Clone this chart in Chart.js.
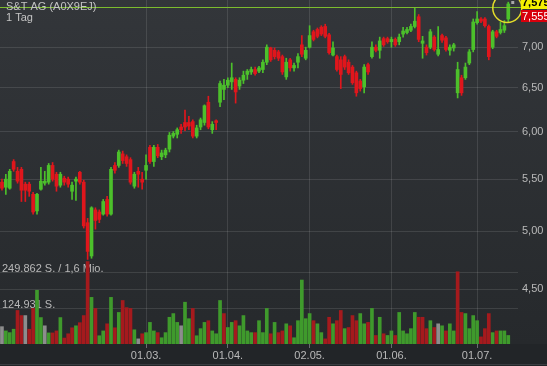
<!DOCTYPE html>
<html>
<head>
<meta charset="utf-8">
<script src="https://cdn.jsdelivr.net/npm/chart.js@4"></script>
<style>
  html, body { margin: 0; padding: 0; background: #26292d; }
  #wrap { width: 547px; height: 366px; position: relative; }
</style>
</head>
<body>
<div id="wrap"><canvas id="myChart"></canvas></div>
<script>
// daily candles
const opens = [5.47,5.42,5.41,5.68,5.58,5.60,5.45,5.45,5.35,5.19,5.40,5.46,5.47,5.64,5.55,5.44,5.51,5.50,5.38,5.48,
  5.57,5.47,5.08,4.78,5.20,5.18,5.16,5.30,5.16,5.64,5.64,5.76,5.73,5.70,5.43,5.58,5.50,5.59,5.83,5.68,
  5.83,5.73,5.75,5.81,5.95,5.97,6.05,6.10,6.10,6.11,5.95,6.05,6.10,6.33,6.02,6.12,6.33,6.48,6.53,6.57,
  6.60,6.52,6.59,6.66,6.69,6.72,6.70,6.72,6.81,6.99,6.96,6.94,6.88,6.63,6.84,6.74,6.81,7.03,6.86,7.00,
  7.20,7.23,7.26,7.27,7.16,6.90,6.88,6.84,6.88,6.81,6.75,6.68,6.58,6.51,6.78,6.88,7.00,6.96,7.11,7.11,
  7.07,7.10,7.07,7.17,7.19,7.22,7.27,7.40,7.05,7.00,7.00,7.13,6.91,7.15,7.12,6.96,6.99,6.44,6.62,6.62,
  6.80,6.97,7.32,7.37,7.37,7.27,7.00,7.20,7.19,7.22,7.37];
const highs = [5.50,5.55,5.60,5.70,5.62,5.62,5.47,5.47,5.37,5.36,5.62,5.58,5.66,5.67,5.57,5.57,5.53,5.52,5.47,5.52,
  5.58,5.49,5.12,5.23,5.22,5.20,5.30,5.33,5.62,5.67,5.80,5.79,5.75,5.72,5.57,5.62,5.57,5.75,5.85,5.85,
  5.86,5.80,5.82,5.99,6.00,6.04,6.08,6.24,6.17,6.13,6.07,6.15,6.30,6.40,6.11,6.13,6.58,6.60,6.62,6.80,
  6.62,6.62,6.70,6.72,6.75,6.75,6.76,6.84,7.03,7.00,6.99,6.96,6.90,6.86,6.86,6.80,6.92,7.15,7.00,7.28,
  7.22,7.25,7.28,7.30,7.18,7.07,6.90,6.88,6.90,6.84,6.77,6.70,6.60,6.78,6.80,7.07,7.03,7.13,7.13,7.13,
  7.13,7.12,7.17,7.26,7.26,7.30,7.52,7.43,7.14,7.03,7.23,7.15,7.27,7.17,7.14,7.03,7.05,6.81,6.65,6.80,
  6.97,7.37,7.47,7.39,7.39,7.29,7.22,7.22,7.33,7.35,7.60];
const lows = [5.39,5.35,5.40,5.58,5.46,5.28,5.28,5.33,5.16,5.16,5.39,5.44,5.45,5.48,5.38,5.42,5.44,5.42,5.30,5.29,
  5.45,5.03,4.75,4.76,5.02,5.08,5.15,5.14,5.15,5.56,5.62,5.66,5.63,5.45,5.41,5.42,5.40,5.50,5.66,5.63,
  5.72,5.70,5.72,5.78,5.93,5.93,5.98,6.01,6.02,5.93,5.93,6.02,6.07,6.03,5.98,6.02,6.28,6.36,6.50,6.48,
  6.32,6.48,6.55,6.60,6.66,6.65,6.68,6.68,6.78,6.82,6.85,6.83,6.66,6.60,6.70,6.70,6.74,6.88,6.84,6.99,
  7.08,7.12,7.15,7.12,6.91,6.89,6.70,6.49,6.72,6.66,6.54,6.40,6.46,6.44,6.66,6.86,6.94,6.86,7.01,7.05,
  7.00,7.01,7.03,7.13,7.17,7.20,7.25,7.07,6.86,6.90,6.98,6.95,6.89,7.06,6.95,6.90,6.95,6.38,6.41,6.60,
  6.78,6.94,7.30,7.32,7.26,6.84,6.98,7.12,7.17,7.19,7.32];
const closes = [5.41,5.50,5.58,5.60,5.48,5.39,5.39,5.38,5.18,5.35,5.48,5.48,5.64,5.50,5.43,5.55,5.47,5.45,5.44,5.50,
  5.47,5.05,4.82,5.22,5.10,5.11,5.28,5.16,5.60,5.59,5.78,5.69,5.66,5.47,5.55,5.55,5.47,5.64,5.68,5.83,
  5.74,5.77,5.80,5.96,5.98,6.02,6.02,6.05,6.06,5.95,6.04,6.13,6.29,6.05,6.08,6.10,6.55,6.53,6.59,6.62,
  6.45,6.59,6.65,6.70,6.72,6.67,6.74,6.81,7.00,6.84,6.88,6.86,6.69,6.81,6.74,6.77,6.88,6.91,6.96,7.15,
  7.10,7.14,7.17,7.14,6.93,6.99,6.72,6.66,6.75,6.68,6.56,6.44,6.49,6.75,6.69,7.00,6.96,7.08,7.03,7.07,
  7.10,7.03,7.13,7.21,7.23,7.27,7.34,7.10,7.08,6.93,7.20,6.97,6.97,7.09,6.97,7.00,7.03,6.72,6.44,6.75,
  6.94,7.33,7.37,7.34,7.28,6.88,7.20,7.14,7.23,7.28,7.575];
// volume in thousand shares
const volumes = [61,46,40,52,118,100,100,52,125,189,93,64,39,39,46,93,21,36,57,64,
  75,100,290,164,125,29,46,71,164,57,111,153,128,125,50,18,36,40,76,46,
  40,22,40,94,107,76,64,147,89,125,29,54,76,82,46,36,153,107,58,76,
  82,64,100,46,40,40,82,40,125,36,76,40,46,71,64,22,82,225,89,107,
  82,71,40,18,94,71,82,118,54,58,100,82,107,71,76,125,30,94,36,30,
  46,30,111,46,36,54,111,94,94,54,82,58,71,64,46,71,46,254,111,107,
  54,100,82,25,54,107,40,46,46,46,30];

const slots = 133; // two empty days at the right edge
const tickIndex = [37, 58, 79, 100, 122];
const tickLabels = ['01.03.', '01.04.', '02.05.', '01.06.', '01.07.'];
const priceTicks = [4.5, 5, 5.5, 6, 6.5, 7];
const volTicks = [124931, 249862];
const volTickLabels = ['124.931 S.', '249.862 S. / 1,6 Mio.'];
const title = 'S&T AG (A0X9EJ)';
const period = '1 Tag';
const lastPrice = 7.575;
const bidPrice = 7.555;
const lineLevel = 7.53;

const green = '#4cc02b';
const red = '#e0161c';
const gridColor = 'rgba(255,255,255,0.11)';
const textColor = '#b9b9b9';
const font = { family: 'Liberation Sans, Arial, sans-serif', size: 11 };

const labels = Array.from({ length: slots }, (_, i) => i);
const candleColor = i => closes[i] >= opens[i] ? green : red;
const volColor = i => {
  if (i === 0 || closes[i] === closes[i - 1]) return '#8d8d8d';
  return closes[i] > closes[i - 1] ? '#3f9a2c' : '#a51a1d';
};

// no extra room above/below the plot for the edge labels
const noPad = s => { s.paddingTop = 0; s.paddingBottom = 0; };

const bgPlugin = {
  id: 'bg',
  beforeDraw(chart) {
    const ctx = chart.ctx;
    const area = chart.chartArea;
    const g = ctx.createLinearGradient(0, 0, 0, area.bottom);
    g.addColorStop(0, '#33363a');
    g.addColorStop(1, '#26292c');
    ctx.save();
    ctx.fillStyle = g;
    ctx.fillRect(0, 0, chart.width, area.bottom);
    ctx.fillStyle = '#222528';
    ctx.fillRect(0, area.bottom, chart.width, chart.height - area.bottom);
    ctx.fillStyle = '#3a3d41';
    ctx.fillRect(0, chart.height - 2, chart.width, 1);
    ctx.restore();
  },
  afterDraw(chart) {
    const ctx = chart.ctx;
    const y = chart.scales.y;
    const x = chart.scales.x;
    const lineY = Math.round(y.getPixelForValue(lineLevel)) + 0.5;
    ctx.save();
    // last price line
    ctx.strokeStyle = '#7cbc2e';
    ctx.lineWidth = 1;
    ctx.beginPath();
    ctx.moveTo(0, lineY);
    ctx.lineTo(522, lineY);
    ctx.stroke();

    // circle round the last candle
    const last = closes.length - 1;
    const cx = x.getPixelForValue(last);
    ctx.strokeStyle = '#e3dc2a';
    ctx.lineWidth = 1.5;
    ctx.beginPath();
    ctx.arc(cx - 1, 8, 14.5, 0, Math.PI * 2);
    ctx.stroke();
    ctx.fillStyle = '#a8a8a8';
    ctx.fillRect(cx + 3, 1, 3, 3);

    // price boxes
    ctx.font = 'bold 11px Liberation Sans, Arial, sans-serif';
    ctx.textBaseline = 'middle';
    ctx.textAlign = 'left';
    ctx.fillStyle = '#f4f000';
    ctx.fillRect(521, 0, 26, 9);
    ctx.fillStyle = '#000';
    ctx.fillText(lastPrice.toFixed(3).replace('.', ','), 522, 3);
    ctx.fillStyle = '#d8000c';
    ctx.fillRect(521, 10, 26, 12);
    ctx.fillStyle = '#fff';
    ctx.font = '11px Liberation Sans, Arial, sans-serif';
    ctx.fillText(bidPrice.toFixed(3).replace('.', ','), 522, 16.5);

    // title
    ctx.fillStyle = '#c4c4c4';
    ctx.fillText(title, 6, 6.5);
    ctx.fillText(period, 6, 17.5);
    ctx.restore();
  }
};

const ctx = document.getElementById('myChart');

new Chart(ctx, {
  data: {
    labels: labels,
    datasets: [
      {
        type: 'bar',
        yAxisID: 'yVol',
        data: volumes.map(v => v * 1000),
        backgroundColor: c => volColor(c.dataIndex),
        barThickness: 3,
        grouped: false,
        order: 3
      },
      {
        type: 'bar',
        yAxisID: 'y',
        data: lows.map((l, i) => [l, highs[i]]),
        backgroundColor: c => candleColor(c.dataIndex),
        barThickness: 1,
        grouped: false,
        order: 2
      },
      {
        type: 'bar',
        yAxisID: 'y',
        data: opens.map((o, i) => [o, closes[i]]),
        backgroundColor: c => candleColor(c.dataIndex),
        barThickness: 3,
        grouped: false,
        order: 1
      }
    ]
  },
  options: {
    responsive: true,
    maintainAspectRatio: false,
    animation: false,
    layout: { padding: 0 },
    plugins: { legend: { display: false }, tooltip: { enabled: false } },
    scales: {
      x: {
        type: 'category',
        offset: true,
        border: { display: false },
        grid: {
          offset: false,
          color: c => tickIndex.includes(c.index) ? gridColor : 'transparent',
          tickColor: c => tickIndex.includes(c.index) ? '#6a6d71' : 'transparent',
          tickLength: 4
        },
        ticks: {
          autoSkip: false,
          maxRotation: 0,
          color: textColor,
          font: font,
          padding: 1,
          callback: (v, i) => {
            const k = tickIndex.indexOf(i);
            return k >= 0 ? tickLabels[k] : '';
          }
        },
        afterFit: s => { s.height = 22; }
      },
      y: {
        type: 'logarithmic',
        position: 'right',
        min: 4.07,
        max: 7.63,
        border: { display: false },
        grid: { color: gridColor, drawTicks: false },
        afterBuildTicks: s => { s.ticks = priceTicks.map(v => ({ value: v })); },
        ticks: {
          color: textColor,
          font: font,
          padding: 4,
          callback: v => Number(v).toFixed(2).replace('.', ',')
        },
        afterFit: s => { s.width = 29; noPad(s); }
      },
      yVol: {
        type: 'linear',
        position: 'left',
        min: 0,
        max: 1210000,
        border: { display: false },
        grid: { color: gridColor, drawTicks: false },
        afterBuildTicks: s => { s.ticks = volTicks.map(v => ({ value: v })); },
        ticks: {
          mirror: true,
          color: textColor,
          font: font,
          padding: 2,
          labelOffset: -4,
          callback: v => volTickLabels[volTicks.indexOf(v)]
        },
        afterFit: s => { s.width = 0; noPad(s); }
      }
    }
  },
  plugins: [bgPlugin]
});
</script>
</body>
</html>
